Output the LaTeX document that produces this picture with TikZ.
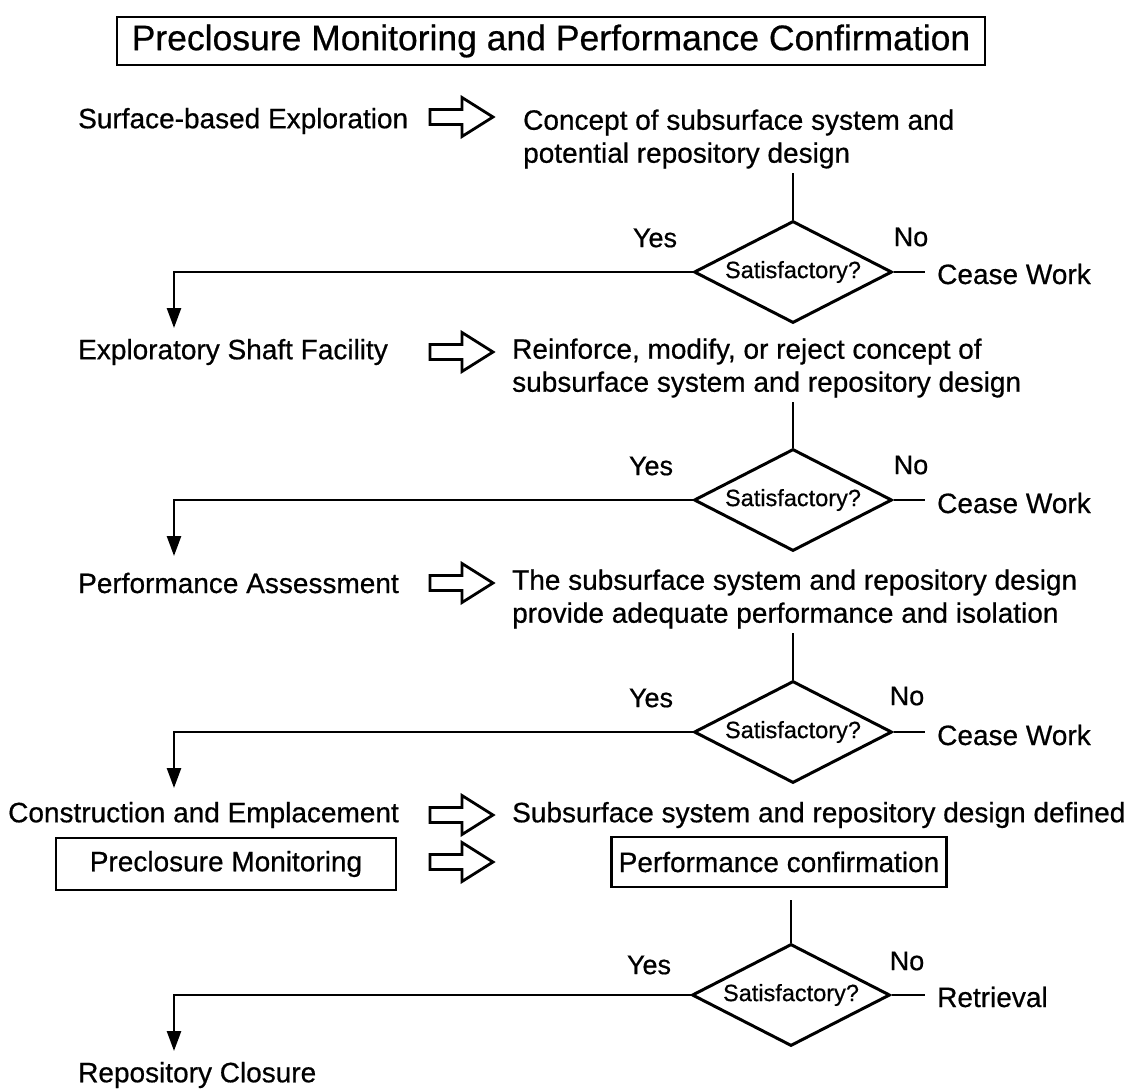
\documentclass[tikz,border=0pt]{standalone}
\usepackage{fontspec}
\setmainfont{Liberation Sans}[UprightFeatures={FakeBold=0.6}]
\usetikzlibrary{shapes.geometric,arrows.meta,positioning}

\newcommand{\hollowarrow}[1]{%
  \draw[line width=2.8pt,line join=miter] ([yshift=7.5pt]#1) -- ++(32,0) -- ++(0,12) -- ++(31,-19.5)
    -- ++(-31,-19.5) -- ++(0,12) -- ++(-32,0) -- cycle;}

\begin{document}
\begin{tikzpicture}[x=1pt,y=1pt,on grid,
   txt/.style={font=\fontsize{28}{33}\selectfont,inner sep=0pt,anchor=west,align=left},
   lab/.style={font=\fontsize{27}{30}\selectfont,inner sep=0pt},
   box/.style={draw,line width=2.5pt,font=\fontsize{28}{33}\selectfont,minimum height=52pt},
   choice/.style={diamond,draw,line width=3pt,aspect=1.94,minimum width=198pt,minimum height=102pt,
                  inner sep=0pt,font=\fontsize{23.5}{26}\selectfont},
   link/.style={line width=2.7pt},
   godown/.style={link,-{Triangle[length=20pt,width=14pt]}}]
   \useasboundingbox (0,0) rectangle (1129,-1089);

   \node[box,font=\fontsize{35.5}{40}\selectfont,minimum width=868pt,minimum height=48pt] (title) at (551,-41)
      {Preclosure Monitoring and Performance Confirmation};

   % left column
   \node[txt] (t_1) at (78,-121)  {Surface-based Exploration};
   \node[txt] (t_2) at (78,-352)  {Exploratory Shaft Facility};
   \node[txt] (t_3) at (78,-583)  {Performance Assessment};
   \node[txt] (t_4) at (8,-815)   {Construction and Emplacement};
   \node[box,minimum width=340pt] (p_1) at (226,-864) {Preclosure Monitoring};
   \node[txt] (t_6) at (78,-1075) {Repository Closure};

   % hollow arrows
   \coordinate (a_1) at (430,-117);
   \coordinate (a_2) at (430,-352);
   \coordinate (a_3) at (430,-583);
   \coordinate (a_4) at (430,-815);
   \coordinate (a_5) at (430,-862);
   \hollowarrow{a_1} \hollowarrow{a_2} \hollowarrow{a_3} \hollowarrow{a_4} \hollowarrow{a_5}

   % right column
   \node[txt] (r_1) at (523,-139) {Concept of subsurface system and\\potential repository design};
   \node[txt] (r_2) at (512,-368) {Reinforce, modify, or reject concept of\\subsurface system and repository design};
   \node[txt] (r_3) at (512,-599) {The subsurface system and repository design\\provide adequate performance and isolation};
   \node[txt] (r_4) at (512,-815) {Subsurface system and repository design defined};
   \node[box,inner xsep=7pt,minimum height=50pt] (p_2) at (779,-862) {Performance confirmation};

   % decisions
   \node[choice] (d_1) at (793,-272) {Satisfactory?};
   \node[choice] (d_2) at (793,-500) {Satisfactory?};
   \node[choice] (d_3) at (793,-732) {Satisfactory?};
   \node[choice] (d_4) at (791,-995) {Satisfactory?};

   \node[lab] (y_1) [above left=34pt and 138pt of d_1] {Yes};
   \node[lab] (n_1) [above right=35pt and 118pt of d_1] {No};
   \node[lab] (y_2) [above left=34pt and 142pt of d_2] {Yes};
   \node[lab] (n_2) [above right=35pt and 118pt of d_2] {No};
   \node[lab] (y_3) [above left=34pt and 142pt of d_3] {Yes};
   \node[lab] (n_3) [above right=36pt and 114pt of d_3] {No};
   \node[lab] (y_4) [above left=30pt and 142pt of d_4] {Yes};
   \node[lab] (n_4) [above right=34pt and 116pt of d_4] {No};

   \node[txt] (c_1) at (937,-274) {Cease Work};
   \node[txt] (c_2) at (937,-503) {Cease Work};
   \node[txt] (c_3) at (937,-735) {Cease Work};
   \node[txt] (c_4) at (937,-997) {Retrieval};

   \coordinate (k_1) at (174,-328);
   \coordinate (k_2) at (174,-556);
   \coordinate (k_3) at (174,-788);
   \coordinate (k_4) at (174,-1051);

   \draw[link,shorten >=4pt] (d_1.north) -- (d_1.north |- r_1.south);
   \draw[link,shorten >=4pt] (d_2.north) -- (d_2.north |- r_2.south);
   \draw[link,shorten >=4pt] (d_3.north) -- (d_3.north |- r_3.south);
   \draw[link,shorten >=12pt] (d_4.north) -- (d_4.north |- p_2.south);

   \draw[link,shorten >=12pt] (d_1.east) -- (d_1.east -| c_1.west);
   \draw[link,shorten >=12pt] (d_2.east) -- (d_2.east -| c_2.west);
   \draw[link,shorten >=12pt] (d_3.east) -- (d_3.east -| c_3.west);
   \draw[link,shorten >=12pt] (d_4.east) -- (d_4.east -| c_4.west);

   \draw[godown] (d_1.west) -| (k_1);
   \draw[godown] (d_2.west) -| (k_2);
   \draw[godown] (d_3.west) -| (k_3);
   \draw[godown] (d_4.west) -| (k_4);
\end{tikzpicture}
\end{document}
